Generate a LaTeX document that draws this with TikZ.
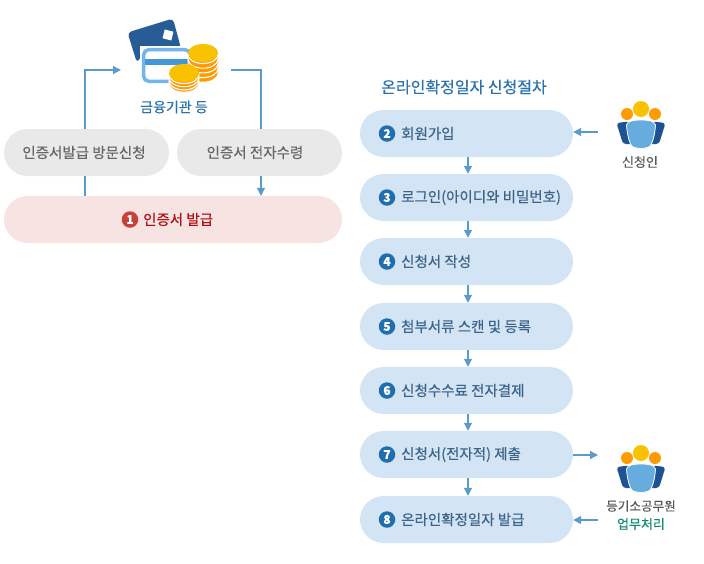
\documentclass[tikz,border=0pt]{standalone}
\usepackage{fontspec}
\setmainfont[FakeBold=0.35]{Noto Sans CJK KR}
\usetikzlibrary{arrows.meta}
\definecolor{linkblue}{HTML}{5B9BC9}
\definecolor{stepfill}{HTML}{D3E5F5}
\definecolor{stepink}{HTML}{3D6388}
\definecolor{badgeblue}{HTML}{1F6FAE}
\definecolor{titleblue}{HTML}{2A72AB}
\definecolor{greyfill}{HTML}{E9E9E9}
\definecolor{greyink}{HTML}{666666}
\definecolor{pinkfill}{HTML}{F7E3E2}
\definecolor{redink}{HTML}{B01116}
\definecolor{badgered}{HTML}{C8403A}
\definecolor{carddark}{HTML}{285C96}
\definecolor{cardlight}{HTML}{72B5EA}
\definecolor{cardstripe}{HTML}{4297D6}
\definecolor{coinorange}{HTML}{FF9A00}
\definecolor{coinyellow}{HTML}{F9C100}
\definecolor{bodylight}{HTML}{66ACDF}
\definecolor{bodydark}{HTML}{1E5391}
\definecolor{workgreen}{HTML}{0D8A70}
\tikzset{
  pics/coinstack/.style 2 args={code={
    \filldraw[fill=coinorange,draw=white,line width=0.6pt] (-15,0) -- (-15,#2) arc[start angle=180,end angle=0,x radius=15,y radius=9] -- (15,0) -- cycle;
    \foreach \dy in {#1} {
      \draw[white,line width=1.1pt] (-15,\dy) arc[start angle=180,end angle=0,x radius=15,y radius=9];
    }
    \fill[coinyellow] (0,0) ellipse[x radius=15,y radius=9];
  }},
  person/.pic={
    \fill[coinorange] (-14,5) circle[radius=6];
    \fill[coinorange] (14,5) circle[radius=6];
    \fill[coinyellow] (0,0) circle[radius=8];
    \fill[bodydark,rounded corners=3pt] (-24.5,14) -- (-12,12.5) -- (-4,35) -- (-18,35) -- cycle;
    \fill[bodydark,rounded corners=3pt] (24.5,14) -- (12,12.5) -- (4,35) -- (18,35) -- cycle;
    \filldraw[fill=bodylight,draw=white,line width=0.8pt] (-14.5,16) .. controls (-13,11.5) and (-7,11) .. (0,11) .. controls (7,11) and (13,11.5) .. (14.5,16) .. controls (14,24) and (12.5,30) .. (10.5,35) .. controls (9,41) and (-9,41) .. (-10.5,35) .. controls (-12.5,30) and (-14,24) .. (-14.5,16) -- cycle;
  }
}
\begin{document}
\begin{tikzpicture}[
    x=1pt, y=-1pt,
    pill/.style={rounded corners=23.5pt, minimum height=47pt, inner sep=0pt},
    visitbox/.style={pill, fill=greyfill, minimum width=165pt},
    visitlabel/.style={inner sep=0pt, text=greyink, font=\fontsize{14.5}{16}\selectfont},
    issuebox/.style={pill, fill=pinkfill, minimum width=338pt},
    stepbox/.style={pill, fill=stepfill, minimum width=213pt},
    steplabel/.style={anchor=west, inner sep=0pt, text=stepink, font=\fontsize{14.5}{16}\selectfont},
    badge/.style={circle, fill=badgeblue, text=white, minimum size=16.5pt, inner sep=0pt, font=\fontsize{12}{12}\selectfont\bfseries},
    caption/.style={inner sep=0pt, text=#1, font=\fontsize{13}{15}\selectfont},
    link/.style={draw=linkblue, line width=1.2pt},
    flow/.style={link, -{Triangle[length=8pt,width=8pt]}}
  ]
  \useasboundingbox (0,0) rectangle (704,563);

  % Card and coins
  \fill[carddark, rounded corners=4pt] (127.5,32.5) -- (173,18.5) -- (181,48.5) -- (146,48.5) -- (137,63) -- cycle;
  \fill[white, rotate around={-14:(168,35)}] (163.5,30.5) rectangle (172.5,39.5);
  \draw[white, fill=white, line width=1pt] (140,46) rectangle (192,84);
  \draw[cardlight, fill=white, line width=3.5pt, rounded corners=5pt] (143.7,49.7) rectangle (190,81.3);
  \fill[cardstripe] (145,59) rectangle (188,65);
  \pic at (203,53) {coinstack={1.5,6.2,10.9,15.6}{20}};
  \pic at (184,73) {coinstack={1.5,4.7,7.9}{10}};
  \node[caption=titleblue, font=\fontsize{14}{16}\selectfont] (bank) at (174,107) {금융기관 등};
  \coordinate (bankin) at (121,70);
  \coordinate (bankout) at (231,70);

  % Left side
  \node[visitbox] (visit) at (86.5,152.5) {};
  \node[visitbox] (receive) at (259.5,152.5) {};
  \node[visitlabel] (visittext) at (84,152.5) {인증서발급 방문신청};
  \node[visitlabel] (receivetext) at (255,152.5) {인증서 전자수령};
  \node[issuebox] (issue) at (173,219.5) {};
  \node[badge, fill=badgered] (b1) at (130,219.5) {1};
  \node[steplabel, text=redink] (l1) at (143,219.5) {인증서 발급};
  \coordinate (leftline) at (85,129);
  \coordinate (rightline) at (261,129);

  % Title
  \node[caption=titleblue, font=\fontsize{16}{18}\selectfont] (title) at (464,87) {온라인확정일자 신청절차};

  % Steps
  \node[stepbox] (s2) at (466.5,133.5) {};
  \node[stepbox] (s3) at (466.5,197.5) {};
  \node[stepbox] (s4) at (466.5,261.5) {};
  \node[stepbox] (s5) at (466.5,326.5) {};
  \node[stepbox] (s6) at (466.5,390.5) {};
  \node[stepbox] (s7) at (466.5,454.5) {};
  \node[stepbox] (s8) at (466.5,519.5) {};
  \foreach \n/\txt in {2/회원가입, 3/로그인(아이디와 비밀번호), 4/신청서 작성, 5/첨부서류 스캔 및 등록, 6/신청수수료 전자결제, 7/신청서(전자적) 제출, 8/온라인확정일자 발급} {
    \node[badge] (b\n) at ([xshift=-79.5pt]s\n.center) {\n};
    \node[steplabel] (l\n) at ([xshift=-65.5pt]s\n.center) {\txt};
  }

  % People
  \pic at (641,109) {person};
  \pic at (641,453) {person};
  \node[caption=greyink!85!black] (applicant) at (640,162) {신청인};
  \node[caption=greyink!85!black, font=\fontsize{12.6}{15}\selectfont] (officer) at (641,506) {등기소공무원};
  \node[caption=workgreen] (work) at (641,524) {업무처리};
  \coordinate (appout) at (598,132);
  \coordinate (offin) at (598,455);
  \coordinate (offout) at (598,520);

  % Connectors
  \draw[link] (issue.north -| leftline) -- (visit.south -| leftline);
  \draw[flow] (leftline) |- (bankin);
  \draw[link] (bankout) -| (rightline);
  \draw[flow] (receive.south -| rightline) -- (issue.north -| rightline);
  \foreach \a/\b in {s2/s3, s3/s4, s4/s5, s5/s6, s6/s7, s7/s8} {
    \draw[flow] (\a.south -| 468,0) -- (\b.north -| 468,0);
  }
  \draw[flow] (appout) -- (appout -| s2.east);
  \draw[flow] (offin -| s7.east) -- (offin);
  \draw[flow] (offout) -- (offout -| s8.east);
\end{tikzpicture}
\end{document}
